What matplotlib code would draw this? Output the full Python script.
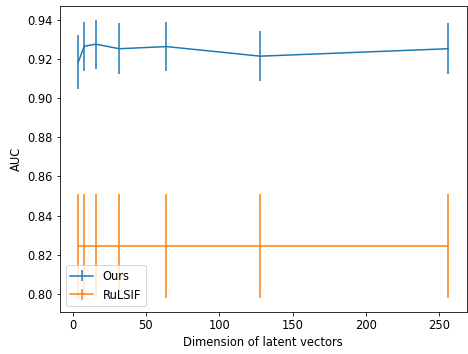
import numpy as np
import matplotlib.pyplot as plt

# data
dims = [4, 8, 16, 32, 64, 128, 256]
ours_auc = [0.9185, 0.9265, 0.9275, 0.9252, 0.9263, 0.9214, 0.9252]
ours_err = [0.0138, 0.0125, 0.0124, 0.0130, 0.0127, 0.0129, 0.0130]
rulsif_auc = [0.8245, 0.8245, 0.8245, 0.8245, 0.8245, 0.8245, 0.8245]
rulsif_err = [0.0265, 0.0265, 0.0265, 0.0265, 0.0265, 0.0265, 0.0265]

plt.rcParams["font.size"] = 11.5
plt.rcParams["lines.linewidth"] = 1.5

fig = plt.figure(figsize=(468 / 72, 354 / 72), dpi=72)
ax = fig.add_subplot(111)
ax.errorbar(dims, ours_auc, yerr=ours_err, label="Ours")
ax.errorbar(dims, rulsif_auc, yerr=rulsif_err, label="RuLSIF")
ax.set_xlabel("Dimension of latent vectors")
ax.set_ylabel("AUC")
ax.legend(loc="lower left")
fig.subplots_adjust(left=0.128, right=0.997, top=0.983, bottom=0.119)
fig.savefig("out.png", dpi=72)
